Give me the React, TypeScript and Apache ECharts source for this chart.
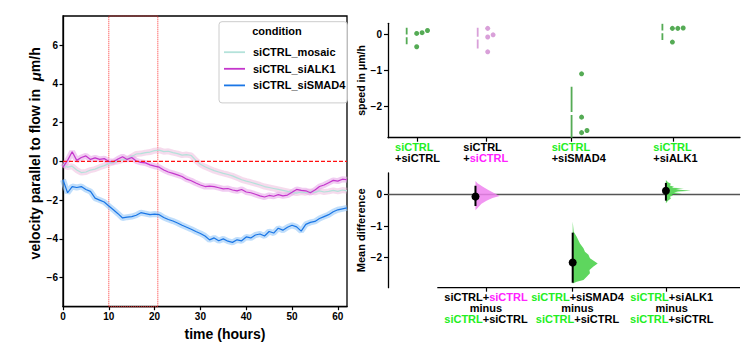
import React, { useEffect, useRef } from 'react';
import * as echarts from 'echarts';

// ---------- left panel: velocity time series ----------
const hours = [0,1,2,3,4,5,6,7,8,9,10,11,12,13,14,15,16,17,18,19,20,21,22,23,24,25,26,27,28,29,30,31,32,33,34,35,36,37,38,39,40,41,42,43,44,45,46,47,48,49,50,51,52,53,54,55,56,57,58,59,60,61,62];
const siCTRL_mosaic = [-0.17,-0.30,-0.25,-0.45,-0.58,-0.55,-0.45,-0.40,-0.30,-0.22,-0.12,-0.05,0.00,0.08,0.12,0.25,0.38,0.40,0.45,0.48,0.55,0.58,0.50,0.52,0.45,0.40,0.32,0.35,0.30,0.05,-0.15,-0.28,-0.38,-0.48,-0.55,-0.62,-0.68,-0.75,-0.85,-0.95,-1.02,-1.08,-1.15,-1.22,-1.30,-1.35,-1.40,-1.45,-1.50,-1.55,-1.60,-1.64,-1.58,-1.62,-1.55,-1.60,-1.52,-1.58,-1.55,-1.50,-1.55,-1.48,-1.52];
const siCTRL_siALK1 = [-0.30,0.05,0.50,0.05,0.20,0.28,0.10,0.18,0.10,0.14,0.00,-0.02,0.12,0.24,0.10,0.20,0.02,-0.05,-0.08,-0.18,-0.25,-0.30,-0.45,-0.55,-0.62,-0.70,-0.78,-0.92,-1.00,-1.12,-1.22,-1.30,-1.28,-1.30,-1.36,-1.42,-1.40,-1.48,-1.52,-1.45,-1.58,-1.62,-1.70,-1.78,-1.84,-1.76,-1.80,-1.72,-1.78,-1.74,-1.60,-1.45,-1.50,-1.52,-1.62,-1.48,-1.30,-1.22,-1.10,-0.98,-1.02,-0.92,-0.95];
const siCTRL_siSMAD4 = [-0.95,-1.62,-1.30,-1.35,-1.30,-1.45,-1.55,-1.90,-2.00,-2.10,-2.30,-2.50,-2.70,-2.92,-2.88,-2.85,-2.78,-2.65,-2.70,-2.75,-2.72,-2.75,-2.90,-3.00,-3.08,-3.18,-3.30,-3.40,-3.50,-3.62,-3.72,-3.85,-4.05,-3.95,-4.10,-4.00,-4.12,-4.18,-4.05,-4.10,-3.90,-3.95,-3.80,-3.75,-3.85,-3.62,-3.70,-3.45,-3.55,-3.40,-3.30,-3.38,-3.60,-3.25,-3.15,-3.10,-2.95,-2.85,-2.75,-2.60,-2.50,-2.45,-2.40];
const conditionNames = ['siCTRL_mosaic', 'siCTRL_siALK1', 'siCTRL_siSMAD4'];
const leftYTicks = [-6, -4, -2, 0, 2, 4, 6];
const leftXTicks = [0, 10, 20, 30, 40, 50, 60];
const leftXRange = [0, 62];
const leftYRange = [-7.5, 7.5];
const analysisWindow = [10, 20.7];

// ---------- right top: swarm of speeds ----------
const swarmValues = [
  [0.02, 0.04, 0.10, -0.35],
  [0.16, -0.08, -0.02, -0.49],
  [-1.10, -2.30, -2.73, -2.67],
  [0.16, 0.16, 0.17, -0.22],
];
const swarmSlots = [
  [0, 1, 2, 0],
  [0, 0, 1, 0],
  [0, 0, 0, 1],
  [0, 1, 2, 0],
];
const groupMean = [-0.05, -0.11, -2.20, 0.065];
const groupSd = [0.23, 0.29, 0.74, 0.225];
const speedTicks = [-2, -1, 0];

// ---------- right bottom: mean differences ----------
const deltaMean = [-0.07, -2.15, 0.11];
const deltaCiLow = [-0.37, -2.79, -0.20];
const deltaCiHigh = [0.27, -1.21, 0.36];
const deltaTicks = [-2, -1, 0];
// bootstrap density profiles: [mean difference, relative density]
const violinSiCTRL = [[0.42,0],[0.35,0.08],[0.25,0.28],[0.15,0.48],[0.05,0.72],[-0.05,0.97],[-0.12,0.68],[-0.20,0.44],[-0.30,0.24],[-0.40,0.12],[-0.50,0]];
const violinSiSMAD4 = [[-0.86,0],[-1.18,0.04],[-1.34,0.16],[-1.55,0.29],[-1.70,0.43],[-1.81,0.49],[-1.91,0.63],[-2.02,0.69],[-2.18,1.0],[-2.28,0.83],[-2.39,0.67],[-2.49,0.69],[-2.60,0.56],[-2.70,0.43],[-2.76,0.16],[-2.81,0]];
const violinSiALK1 = [[0.45,0],[0.38,0.08],[0.33,0.2],[0.28,0.16],[0.24,0.32],[0.21,0.24],[0.19,0.72],[0.17,0.4],[0.14,0.56],[0.115,1.0],[0.09,0.48],[0.06,0.32],[0.03,0.64],[0.0,0.24],[-0.04,0.28],[-0.08,0.16],[-0.13,0.2],[-0.20,0.08],[-0.28,0]];
const violins = [violinSiCTRL, violinSiSMAD4, violinSiALK1];

// ---------- layout / style ----------
const FONT = '"Liberation Sans", Arial, Helvetica, sans-serif';
const GREEN_TXT = '#22ee22';
const MAGENTA_TXT = '#ff22ff';
const lineColors = ['#b4e2da', '#c436cc', '#1a76e6'];
const bandColors = ['rgba(236,176,214,0.45)', 'rgba(232,170,234,0.6)', 'rgba(150,200,248,0.6)'];
const swarmColors = ['#55ab55', '#d9a0d9', '#55ab55', '#55ab55'];
const violinColors = ['rgba(238,130,238,0.85)', 'rgba(80,210,80,0.92)', 'rgba(80,210,80,0.92)'];
const rightX = { min: -0.435, max: 4.72 };
const swarmX = [-0.015, 1.025, 2.40, 3.73];
const topTickX = [0, 1, 2.255, 3.742];
const topLabelX = [-0.332, 0.668, 1.962, 3.45];
const deltaX = [0.846, 2.27, 3.635];
const bottomTickX = [1.0, 2.27, 3.64];
const bottomLabelX = [1.0, 2.34, 3.72];
const bottomSpineStart = 0.287;

const topLabels = [
  '{g|siCTRL}\n{k|+siCTRL}',
  '{k|siCTRL}\n{k|+}{m|siCTRL}',
  '{g|siCTRL}\n{k|+siSMAD4}',
  '{g|siCTRL}\n{k|+siALK1}',
];
const bottomLabels = [
  '{k|siCTRL+}{m|siCTRL}\n{k|minus}\n{g|siCTRL}{k|+siCTRL}',
  '{g|siCTRL}{k|+siSMAD4}\n{k|minus}\n{g|siCTRL}{k|+siCTRL}',
  '{g|siCTRL}{k|+siALK1}\n{k|minus}\n{g|siCTRL}{k|+siCTRL}',
];

const neg = (v: number) => String(v).replace('-', '\u2212');
const nearest = (vals: number[], v: number) => {
  let best = 0;
  vals.forEach((x, i) => { if (Math.abs(x - v) < Math.abs(vals[best] - v)) best = i; });
  return best;
};
const tickLabelStyle = { color: '#000', fontFamily: FONT, fontWeight: 'bold' as const, fontSize: 10 };
const richLabels = {
  g: { color: GREEN_TXT, fontFamily: FONT, fontWeight: 'bold', fontSize: 11, lineHeight: 11 },
  k: { color: '#000', fontFamily: FONT, fontWeight: 'bold', fontSize: 11, lineHeight: 11 },
  m: { color: MAGENTA_TXT, fontFamily: FONT, fontWeight: 'bold', fontSize: 11, lineHeight: 11 },
};

function buildOption(): any {
  const seriesArrays = [siCTRL_mosaic, siCTRL_siALK1, siCTRL_siSMAD4];
  const pairs = (arr: number[]) => hours.map((h, i) => [h, arr[i]]);

  const bands = seriesArrays.map((arr, i) => ({
    name: conditionNames[i] + ' CI',
    type: 'line', xAxisIndex: 0, yAxisIndex: 0, symbol: 'none', silent: true,
    data: pairs(arr),
    lineStyle: { color: bandColors[i], width: 6 },
    z: 2,
  }));
  const lines: any[] = seriesArrays.map((arr, i) => ({
    name: conditionNames[i],
    type: 'line', xAxisIndex: 0, yAxisIndex: 0, symbol: 'none',
    data: pairs(arr),
    color: lineColors[i],
    lineStyle: { color: lineColors[i], width: 1.2 },
    z: 3,
  }));
  // zero reference line of the left panel
  const zeroLine = {
    name: 'zero', type: 'line', xAxisIndex: 0, yAxisIndex: 0, symbol: 'none', silent: true,
    data: [[leftXRange[0], 0], [leftXRange[1], 0]],
    color: '#ff1010',
    lineStyle: { color: '#ff1010', type: [4, 2], width: 1.2 },
    z: 4,
  };
  const windowMark = {
    type: 'line', xAxisIndex: 0, yAxisIndex: 0, symbol: 'none', silent: true,
    data: [], z: 4,
    markArea: {
      silent: true, label: { show: false },
      itemStyle: { color: 'rgba(0,0,0,0)', borderColor: '#ff3030', borderType: 'dotted', borderWidth: 1 },
      data: [[{ xAxis: analysisWindow[0], yAxis: leftYRange[0] }, { xAxis: analysisWindow[1], yAxis: leftYRange[1] }]],
    },
  };

  // swarm
  const swarmData: any[] = [];
  swarmValues.forEach((vals, g) => vals.forEach((v, j) => swarmData.push([swarmX[g], v, swarmSlots[g][j], g])));
  const swarm = {
    type: 'custom', xAxisIndex: 1, yAxisIndex: 1, clip: false,
    data: swarmData,
    renderItem: (params: any, api: any) => {
      const p = api.coord([api.value(0), api.value(1)]);
      const slot = api.value(2);
      const g = api.value(3);
      return { type: 'circle', shape: { cx: p[0] + slot * 5.4, cy: p[1], r: 2.5 }, style: { fill: swarmColors[g] } };
    },
    z: 4,
  };
  const gapData = groupMean.map((m, g) => [swarmX[g], m, groupSd[g], g]);
  const gaps = {
    type: 'custom', xAxisIndex: 1, yAxisIndex: 1, clip: true,
    data: gapData,
    renderItem: (params: any, api: any) => {
      const x = api.value(0), m = api.value(1), sd = api.value(2), g = api.value(3);
      const top = api.coord([x, m + sd]);
      const mid = api.coord([x, m]);
      const bot = api.coord([x, m - sd]);
      const px = top[0] - 10;
      const st = { stroke: swarmColors[g], lineWidth: 1.8 };
      return {
        type: 'group', children: [
          { type: 'line', shape: { x1: px, y1: top[1], x2: px, y2: mid[1] - 1.4 }, style: st },
          { type: 'line', shape: { x1: px, y1: mid[1] + 1.4, x2: px, y2: bot[1] }, style: st },
        ],
      };
    },
    z: 3,
  };

  // delta plot
  const violinSeries = {
    type: 'custom', xAxisIndex: 2, yAxisIndex: 2, clip: false,
    data: deltaX.map((x, i) => [x, deltaMean[i], i]),
    renderItem: (params: any, api: any) => {
      const x = api.value(0);
      const i = api.value(2);
      const prof = violins[i];
      const pts = prof.map(([v, d]) => {
        const c = api.coord([x, v]);
        return [c[0] + d * 25, c[1]];
      });
      const first = api.coord([x, prof[0][0]]);
      const last = api.coord([x, prof[prof.length - 1][0]]);
      return {
        type: 'polygon',
        shape: { points: [first, ...pts, last] },
        style: { fill: violinColors[i] },
      };
    },
    z: 3,
  };
  const ciSeries = {
    type: 'custom', xAxisIndex: 2, yAxisIndex: 2, clip: false,
    data: deltaX.map((x, i) => [x, deltaCiLow[i], deltaCiHigh[i]]),
    renderItem: (params: any, api: any) => {
      const a = api.coord([api.value(0), api.value(1)]);
      const b = api.coord([api.value(0), api.value(2)]);
      return { type: 'line', shape: { x1: a[0], y1: a[1], x2: b[0], y2: b[1] }, style: { stroke: '#000', lineWidth: 2 } };
    },
    z: 4,
  };
  const dots = {
    type: 'scatter', xAxisIndex: 2, yAxisIndex: 2, symbolSize: 8,
    data: deltaX.map((x, i) => [x, deltaMean[i]]),
    itemStyle: { color: '#000', opacity: 1 },
    z: 5,
    markLine: {
      silent: true, symbol: ['none', 'none'], label: { show: false },
      lineStyle: { color: '#555', type: 'solid', width: 1.3 },
      data: [{ yAxis: 0 }],
      z: 1,
    },
  };
  const spine = {
    type: 'custom', xAxisIndex: 2, yAxisIndex: 2, clip: false,
    data: [[bottomSpineStart, -2.946]],
    renderItem: (params: any, api: any) => {
      const a = api.coord([api.value(0), api.value(1)]);
      const b = api.coord([rightX.max, api.value(1)]);
      return { type: 'line', shape: { x1: a[0], y1: a[1], x2: b[0], y2: b[1] }, style: { stroke: '#000', lineWidth: 1.3 } };
    },
    z: 6,
  };

  const axisLineBlack = { show: true, onZero: false, lineStyle: { color: '#000', width: 1.3 } };
  const tickBlack = (vals: number[], len = 4) => ({ show: true, customValues: vals, length: len, lineStyle: { color: '#000', width: 1.2 } });

  return {
    animation: false,
    backgroundColor: '#fff',
    textStyle: { fontFamily: FONT },
    grid: [
      { left: 63, top: 16, width: 284, height: 290.7, show: true, borderColor: '#000', borderWidth: 1.3, backgroundColor: 'transparent' },
      { left: 388, top: 23.3, width: 352, height: 114.4 },
      { left: 388, top: 173, width: 352, height: 114.7 },
    ],
    xAxis: [
      {
        type: 'value', gridIndex: 0, min: leftXRange[0], max: leftXRange[1],
        axisLine: axisLineBlack, axisTick: tickBlack(leftXTicks, 3.5), splitLine: { show: false },
        axisLabel: { ...tickLabelStyle, customValues: leftXTicks, margin: 5, formatter: (v: number) => neg(v) },
        name: 'time (hours)', nameLocation: 'middle', nameGap: 16,
        nameTextStyle: { color: '#000', fontFamily: FONT, fontWeight: 'bold', fontSize: 14, padding: [0, 0, 0, 40] },
      },
      {
        type: 'value', gridIndex: 1, min: rightX.min, max: rightX.max,
        axisLine: axisLineBlack, axisTick: tickBlack(topTickX), splitLine: { show: false },
        axisLabel: {
          show: true, customValues: topLabelX, align: 'left', margin: 4,
          formatter: (v: number) => topLabels[nearest(topLabelX, v)],
          rich: richLabels,
        },
      },
      {
        type: 'value', gridIndex: 2, min: rightX.min, max: rightX.max,
        axisLine: { show: false, onZero: false }, axisTick: tickBlack(bottomTickX), splitLine: { show: false },
        axisLabel: {
          show: true, customValues: bottomLabelX, align: 'center', margin: 4,
          formatter: (v: number) => bottomLabels[nearest(bottomLabelX, v)],
          rich: richLabels,
        },
      },
    ],
    yAxis: [
      {
        type: 'value', gridIndex: 0, min: leftYRange[0], max: leftYRange[1],
        axisLine: axisLineBlack, axisTick: tickBlack(leftYTicks, 3.5), splitLine: { show: false },
        axisLabel: { ...tickLabelStyle, customValues: leftYTicks, margin: 5, formatter: (v: number) => neg(v) },
        name: 'velocity parallel to flow in  {i|\u03bc}m/h', nameLocation: 'middle', nameGap: 18,
        nameTextStyle: {
          color: '#000', fontFamily: FONT, fontWeight: 'bold', fontSize: 14, padding: [0, 0, 0, 16],
          rich: { i: { fontStyle: 'italic', fontFamily: FONT, fontSize: 15, color: '#000' } },
        },
      },
      {
        type: 'value', gridIndex: 1, min: -2.87, max: 0.3,
        axisLine: axisLineBlack, axisTick: tickBlack(speedTicks), splitLine: { show: false },
        axisLabel: { ...tickLabelStyle, customValues: speedTicks, margin: 6, formatter: (v: number) => neg(v) },
        name: 'speed in \u03bcm/h', nameLocation: 'middle', nameGap: 22,
        nameTextStyle: { color: '#000', fontFamily: FONT, fontWeight: 'bold', fontSize: 10.5 },
      },
      {
        type: 'value', gridIndex: 2, min: -2.946, max: 0.672,
        axisLine: axisLineBlack, axisTick: tickBlack(deltaTicks), splitLine: { show: false },
        axisLabel: { ...tickLabelStyle, customValues: deltaTicks, margin: 6, formatter: (v: number) => neg(v) },
        name: 'Mean difference', nameLocation: 'middle', nameGap: 22,
        nameTextStyle: { color: '#000', fontFamily: FONT, fontWeight: 'bold', fontSize: 11 },
      },
    ],
    legend: {
      data: conditionNames.map((n) => ({ name: n, icon: 'rect' })),
      orient: 'vertical', left: 219, top: 21.7,
      padding: [24, 2, 11, 5], itemGap: 3.6, itemWidth: 21, itemHeight: 1.8,
      borderColor: '#cccccc', borderWidth: 1, borderRadius: 3,
      backgroundColor: 'rgba(255,255,255,0.85)',
      textStyle: { color: '#000', fontFamily: FONT, fontWeight: 'bold', fontSize: 11, lineHeight: 13, padding: [0, 0, 0, 3] },
      selectedMode: false,
      z: 20,
    },
    graphic: [
      {
        type: 'text', x: 277, y: 31, z: 30,
        style: { text: 'condition', fill: '#000', font: `bold 11px ${FONT}`, align: 'center', verticalAlign: 'middle' },
      },
    ],
    series: [...bands, ...lines, zeroLine, windowMark, gaps, swarm, violinSeries, ciSeries, dots, spine],
  };
}

export default function App() {
  const ref = useRef<HTMLDivElement>(null);
  useEffect(() => {
    const chart = echarts.init(ref.current!, null, { renderer: 'svg' });
    chart.setOption(buildOption());
    return () => chart.dispose();
  }, []);
  return <div ref={ref} style={{ position: 'absolute', left: 0, top: 0, width: 749, height: 360 }} />;
}
